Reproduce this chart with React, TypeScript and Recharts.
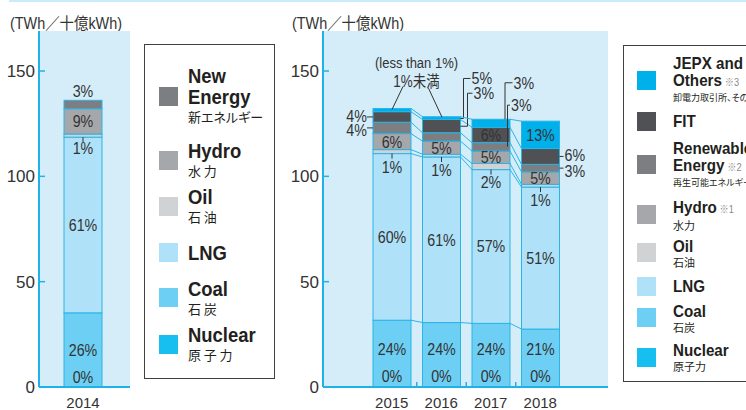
import React from "react";
import { BarChart, Bar, XAxis, YAxis, CartesianGrid } from "recharts";

// TWh
const yearsA = ["2014"];
const nuclearA = [0];
const coalA = [35.2];
const lngA = [83.4];
const oilA = [1.5];
const hydroA = [12.0];
const newEnergyA = [4.0];

const yearsB = ["2015", "2016", "2017", "2018"];
const nuclearB = [0, 0, 0, 0];
const coalB = [31.7, 30.6, 30.2, 27.5];
const lngB = [79.1, 78.6, 73.0, 67.4];
const oilB = [1.9, 1.3, 2.9, 1.3];
const hydroB = [7.6, 6.2, 5.9, 5.9];
const renewB = [5.4, 4.0, 4.0, 3.6];
const fitB = [5.0, 6.3, 7.3, 7.5];
const jepxB = [1.5, 1.3, 3.8, 13.0];

// shares printed on the chart
const pctNuclearA = ["0%"];
const pctCoalA = ["26%"];
const pctLngA = ["61%"];
const pctOilA = ["1%"];
const pctHydroA = ["9%"];
const pctNewA = ["3%"];

const pctNuclearB = ["0%", "0%", "0%", "0%"];
const pctCoalB = ["24%", "24%", "24%", "21%"];
const pctLngB = ["60%", "61%", "57%", "51%"];
const pctOilB = ["1%", "1%", "2%", "1%"];
const pctHydroB = ["6%", "5%", "5%", "5%"];
const pctRenewB = ["4%", "3%", "3%", "3%"];
const pctFitB = ["4%", "5%", "6%", "6%"];
const pctJepxB = ["", "", "3%", "13%"];

const noteEn = "(less than 1%)";
const noteJp = "1%未満";
const unitText = "(TWh／十億kWh)";

const C = {
  nuclear: "#17bff0",
  coal: "#6dcff4",
  lng: "#afe1f8",
  oil: "#d1d2d4",
  hydro: "#a6a7aa",
  renew: "#7d7e82",
  fit: "#505154",
  jepx: "#00b0ea",
};
const BG = "#d5edf9";
const EDGE = "#29b5e8";
const AXIS = "#1fb2e8";
const INK = "#333";
const SANS = "'Liberation Sans', Arial, 'Noto Sans CJK JP', sans-serif";
const CJK = "'Noto Sans CJK JP', sans-serif";
const SQ = 0.84; // horizontal squeeze to mimic the condensed face

const seriesA = [
  { key: "nuclear", color: C.nuclear, vals: nuclearA, pct: pctNuclearA, place: ["base:10"] },
  { key: "coal", color: C.coal, vals: coalA, pct: pctCoalA, place: ["base:37"] },
  { key: "lng", color: C.lng, vals: lngA, pct: pctLngA, place: ["in"] },
  { key: "oil", color: C.oil, vals: oilA, pct: pctOilA, place: ["below:11"] },
  { key: "hydro", color: C.hydro, vals: hydroA, pct: pctHydroA, place: ["in"] },
  { key: "newEnergy", color: C.renew, vals: newEnergyA, pct: pctNewA, place: ["above"] },
];

const seriesB = [
  { key: "nuclear", color: C.nuclear, vals: nuclearB, pct: pctNuclearB, place: ["base:11", "base:11", "base:11", "base:11"] },
  { key: "coal", color: C.coal, vals: coalB, pct: pctCoalB, place: ["base:38", "base:38", "base:38", "base:38"] },
  { key: "lng", color: C.lng, vals: lngB, pct: pctLngB, place: ["in", "in", "in", "in"] },
  { key: "oil", color: C.oil, vals: oilB, pct: pctOilB, place: ["below:13", "below:13", "below:12", "below:13"] },
  { key: "hydro", color: C.hydro, vals: hydroB, pct: pctHydroB, place: ["in", "in", "in", "in"] },
  { key: "renew", color: C.renew, vals: renewB, pct: pctRenewB, place: ["left:2", "br", "br", "right:2.5"] },
  { key: "fit", color: C.fit, vals: fitB, pct: pctFitB, place: ["left:-0.5", "br", "in", "right:-1"] },
  { key: "jepx", color: C.jepx, vals: jepxB, pct: pctJepxB, place: ["note", "note", "br", "in"] },
];

// leader lines that climb above the bars: anchor / elbow / label offsets
const brackets: Record<string, { ay: number; ex: number; ly: number; tx: number }> = {
  "fit-1": { ay: -1, ex: 3, ly: -41, tx: 8 },
  "renew-1": { ay: -6.5, ex: 7, ly: -39.5, tx: 6 },
  "jepx-2": { ay: 0, ex: -5, ly: -36.5, tx: 8.5 },
  "renew-2": { ay: 4, ex: -2.5, ly: -37.5, tx: 3.5 },
};

const dataA = yearsA.map((year, i) => {
  const row: any = { year };
  seriesA.forEach((s) => (row[s.key] = s.vals[i]));
  return row;
});
const dataB = yearsB.map((year, i) => {
  const row: any = { year };
  seriesB.forEach((s) => (row[s.key] = s.vals[i]));
  return row;
});

type Seg = { x: number; w: number; top: number; bottom: number };
const geo: Record<string, Record<string, Seg[]>> = { A: {}, B: {} };

const txt = (key: string, x: number, y: number, s: string, anchor = "middle", size = 17) => (
  <text
    key={key}
    transform={`translate(${x},${y}) scale(${SQ},1)`}
    dy="0.35em"
    textAnchor={anchor}
    fontSize={size}
    fontFamily={SANS}
    fill={INK}
  >
    {s}
  </text>
);

const ln = (key: string, x1: number, y1: number, x2: number, y2: number) => (
  <line key={key} x1={x1} y1={y1} x2={x2} y2={y2} stroke={INK} strokeWidth={1} />
);

function drawLabels(chart: "A" | "B", i: number) {
  const list = chart === "A" ? seriesA : seriesB;
  const g = geo[chart];
  const coal = g.coal && g.coal[i];
  if (!coal) return null;
  const out: React.ReactNode[] = [];
  list.forEach((s) => {
    const place = s.place[i];
    const label = s.pct[i];
    if (!place) return;
    const [mode, arg] = place.split(":");
    const off = Number(arg || 0);
    const seg = (g[s.key] && g[s.key][i]) || { x: coal.x, w: coal.w, top: coal.bottom, bottom: coal.bottom };
    const cx = seg.x + seg.w / 2;
    const right = seg.x + seg.w;
    const mid = (seg.top + seg.bottom) / 2;
    const k = `${s.key}-${i}`;
    if (mode === "in") out.push(txt(k, cx, mid, label));
    else if (mode === "base") out.push(txt(k, cx, coal.bottom - off, label));
    else if (mode === "above") out.push(txt(k, cx, seg.top - 9, label));
    else if (mode === "below") {
      out.push(ln(k + "l", cx, seg.bottom, cx, seg.bottom + 5));
      out.push(txt(k, cx, seg.bottom + off, label));
    } else if (mode === "left") {
      out.push(ln(k + "l", seg.x - 6, mid, seg.x, mid));
      out.push(txt(k, seg.x - 6, mid + off, label, "end"));
    } else if (mode === "right") {
      out.push(ln(k + "l", right, mid, right + 4, mid));
      out.push(txt(k, right + 5, mid + off, label, "start"));
    } else if (mode === "br") {
      const b = brackets[k];
      const ex = right + b.ex;
      const ay = seg.top + b.ay;
      const ly = seg.top + b.ly;
      const tx = ex + b.tx;
      const sx = Math.min(right, ex);
      out.push(
        <path key={k + "p"} d={`M${sx},${ay}H${ex}V${ly}H${tx - 1}`} fill="none" stroke={INK} strokeWidth={1} />
      );
      out.push(txt(k, tx, ly, label, "start"));
    } else if (mode === "note") {
      if (i === 0) {
        out.push(ln(k + "l", cx + 11, seg.top - 22, cx, seg.top + 1));
        out.push(txt(k + "e", right + 5.5, seg.top - 46, noteEn, "middle", 15.5));
        out.push(txt(k + "j", right + 5.5, seg.top - 27, noteJp, "middle", 16));
      } else {
        out.push(ln(k + "l", cx - 13, seg.top - 28.5, cx + 0.5, seg.top + 0.5));
      }
    }
  });
  return out;
}

const segShape = (chart: "A" | "B", key: string, fill: string, last: boolean, marks: boolean) => (p: any) => {
  const { x, y, width, height, index } = p;
  const top = Math.min(y, y + height);
  const bottom = Math.max(y, y + height);
  const series = (geo[chart][key] = geo[chart][key] || []);
  const prev = index > 0 ? series[index - 1] : undefined;
  series[index] = { x, w: width, top, bottom };
  const gapX = prev ? (prev.x + prev.w + x) / 2 : 0;
  return (
    <g>
      {prev && <line x1={prev.x + prev.w} y1={prev.top} x2={x} y2={top} stroke={EDGE} strokeWidth={1} />}
      {marks && prev && <line x1={gapX} x2={gapX} y1={bottom} y2={bottom - 5} stroke={AXIS} strokeWidth={1.5} />}
      {bottom - top > 0 && (
        <rect x={x} y={top} width={width} height={bottom - top} fill={fill} stroke={EDGE} strokeWidth={1} />
      )}
      {last && drawLabels(chart, index)}
    </g>
  );
};

const yTick = (p: any) => (
  <g>
    <line x1={p.x + 4} x2={p.x + 10} y1={p.y} y2={p.y} stroke={AXIS} strokeWidth={1.5} />
    <text x={p.x} y={p.y} dy="0.35em" textAnchor="end" fontSize={17} fontFamily={SANS} fill={INK}>
      {p.payload.value}
    </text>
  </g>
);

const legendA = [
  { en: ["New", "Energy"], note: "", jp: "新エネルギー", small: false, color: C.renew },
  { en: ["Hydro"], note: "", jp: "水力", small: false, color: C.hydro },
  { en: ["Oil"], note: "", jp: "石油", small: false, color: C.oil },
  { en: ["LNG"], note: "", jp: "", small: false, color: C.lng },
  { en: ["Coal"], note: "", jp: "石炭", small: false, color: C.coal },
  { en: ["Nuclear"], note: "", jp: "原子力", small: false, color: C.nuclear },
];
const legendAY = [96, 160, 206, 252, 297.5, 344];

const legendB = [
  { en: ["JEPX and", "Others"], note: "※3", jp: "卸電力取引所、その他", small: true, color: C.jepx },
  { en: ["FIT"], note: "", jp: "", small: false, color: C.fit },
  { en: ["Renewable", "Energy"], note: "※2", jp: "再生可能エネルギー", small: true, color: C.renew },
  { en: ["Hydro"], note: "※1", jp: "水力", small: false, color: C.hydro },
  { en: ["Oil"], note: "", jp: "石油", small: false, color: C.oil },
  { en: ["LNG"], note: "", jp: "", small: false, color: C.lng },
  { en: ["Coal"], note: "", jp: "石炭", small: false, color: C.coal },
  { en: ["Nuclear"], note: "", jp: "原子力", small: false, color: C.nuclear },
];
const legendBY = [80, 121, 164.5, 214.5, 252.5, 286, 317.5, 357];

const KeyBox = ({ items, ys, left, top, width, height, swX, textX, en, jp }: any) => (
  <div
    style={{
      position: "absolute",
      left,
      top,
      width,
      height,
      border: "1px solid #404040",
      boxSizing: "border-box",
    }}
  >
    {items.map((it: any, i: number) => (
      <React.Fragment key={it.en.join(" ")}>
        <div
          style={{
            position: "absolute",
            left: swX - left - 1,
            top: ys[i] - top - 1 - 9.5,
            width: 19,
            height: 19,
            background: it.color,
          }}
        />
        <div
          style={{
            position: "absolute",
            left: textX - left - 1,
            top: ys[i] - top - 1,
            transform: "translateY(-50%)",
            whiteSpace: "nowrap",
            color: "#231f20",
          }}
        >
          {it.en.map((line: string, k: number) => (
            <div
              key={k}
              style={{
                fontFamily: SANS,
                fontWeight: 700,
                fontSize: en.size,
                lineHeight: `${en.lh}px`,
                transform: `scaleX(${en.sq})`,
                transformOrigin: "left center",
              }}
            >
              {line}
              {k === it.en.length - 1 && it.note && (
                <span style={{ fontSize: en.note, fontWeight: 400, color: "#8a8a8a", marginLeft: 3 }}>{it.note}</span>
              )}
            </div>
          ))}
          {it.jp && (
            <div
              style={{
                fontFamily: CJK,
                fontSize: it.small ? jp.small : jp.size,
                lineHeight: `${jp.lh}px`,
                letterSpacing: it.jp.length <= 3 ? jp.ls : 0,
                fontFeatureSettings: '"palt"',
              }}
            >
              {it.jp}
            </div>
          )}
        </div>
      </React.Fragment>
    ))}
  </div>
);

const xTickStyle = { fontSize: 15, fill: INK, fontFamily: SANS };
const unitStyle: React.CSSProperties = {
  position: "absolute",
  top: 10,
  fontFamily: SANS,
  fontSize: 16,
  color: INK,
  whiteSpace: "nowrap",
  transform: "scaleX(0.9)",
  transformOrigin: "left center",
};

export default function App() {
  return (
    <div
      style={{
        position: "absolute",
        left: 0,
        top: 0,
        width: 746,
        height: 410,
        overflow: "hidden",
        background: "#fff",
      }}
    >
      <div style={{ position: "absolute", left: 9, top: 0, width: 737, height: 2, background: "#c9ebfa" }} />
      <div style={{ ...unitStyle, left: 10 }}>{unitText}</div>
      <div style={{ ...unitStyle, left: 292 }}>{unitText}</div>

      <div style={{ position: "absolute", left: 0, top: 0 }}>
        <BarChart width={140} height={410} data={dataA} margin={{ top: 31, right: 10, bottom: 0, left: 0 }}>
          <CartesianGrid fill={BG} horizontal={false} vertical={false} stroke="none" />
          <XAxis
            dataKey="year"
            padding={{ left: 0, right: 3 }}
            axisLine={{ stroke: AXIS, strokeWidth: 2 }}
            tickLine={false}
            tickSize={0}
            tickMargin={10}
            height={23}
            tick={xTickStyle}
          />
          <YAxis
            width={39}
            domain={[0, 169]}
            ticks={[0, 50, 100, 150]}
            axisLine={{ stroke: AXIS, strokeWidth: 2 }}
            tickLine={false}
            tickSize={0}
            tickMargin={4}
            tick={yTick}
          />
          {seriesA.map((s, idx) => (
            <Bar
              key={s.key}
              dataKey={s.key}
              stackId="a"
              barSize={38}
              isAnimationActive={false}
              shape={segShape("A", s.key, s.color, idx === seriesA.length - 1, s.key === "coal")}
            />
          ))}
        </BarChart>
      </div>

      <div style={{ position: "absolute", left: 284, top: 0 }}>
        <BarChart width={330} height={410} data={dataB} margin={{ top: 31, right: 6, bottom: 0, left: 0 }}>
          <CartesianGrid fill={BG} horizontal={false} vertical={false} stroke="none" />
          <XAxis
            dataKey="year"
            padding={{ left: 44, right: 43 }}
            axisLine={{ stroke: AXIS, strokeWidth: 2 }}
            tickLine={false}
            tickSize={0}
            tickMargin={10}
            height={23}
            tick={xTickStyle}
          />
          <YAxis
            width={39}
            domain={[0, 169]}
            ticks={[0, 50, 100, 150]}
            axisLine={{ stroke: AXIS, strokeWidth: 2 }}
            tickLine={false}
            tickSize={0}
            tickMargin={4}
            tick={yTick}
          />
          {seriesB.map((s, idx) => (
            <Bar
              key={s.key}
              dataKey={s.key}
              stackId="b"
              barSize={38}
              isAnimationActive={false}
              shape={segShape("B", s.key, s.color, idx === seriesB.length - 1, s.key === "coal")}
            />
          ))}
        </BarChart>
      </div>

      <KeyBox
        items={legendA}
        ys={legendAY}
        left={144}
        top={44}
        width={131}
        height={335}
        swX={159}
        textX={188}
        en={{ size: 20.5, lh: 21, note: 11, sq: 0.9 }}
        jp={{ size: 13, small: 12, lh: 20, ls: 2.8 }}
      />
      <KeyBox
        items={legendB}
        ys={legendBY}
        left={623}
        top={45}
        width={200}
        height={337}
        swX={637}
        textX={673}
        en={{ size: 16.5, lh: 17, note: 10, sq: 0.92 }}
        jp={{ size: 11, small: 9, lh: 14, ls: 0 }}
      />
    </div>
  );
}
